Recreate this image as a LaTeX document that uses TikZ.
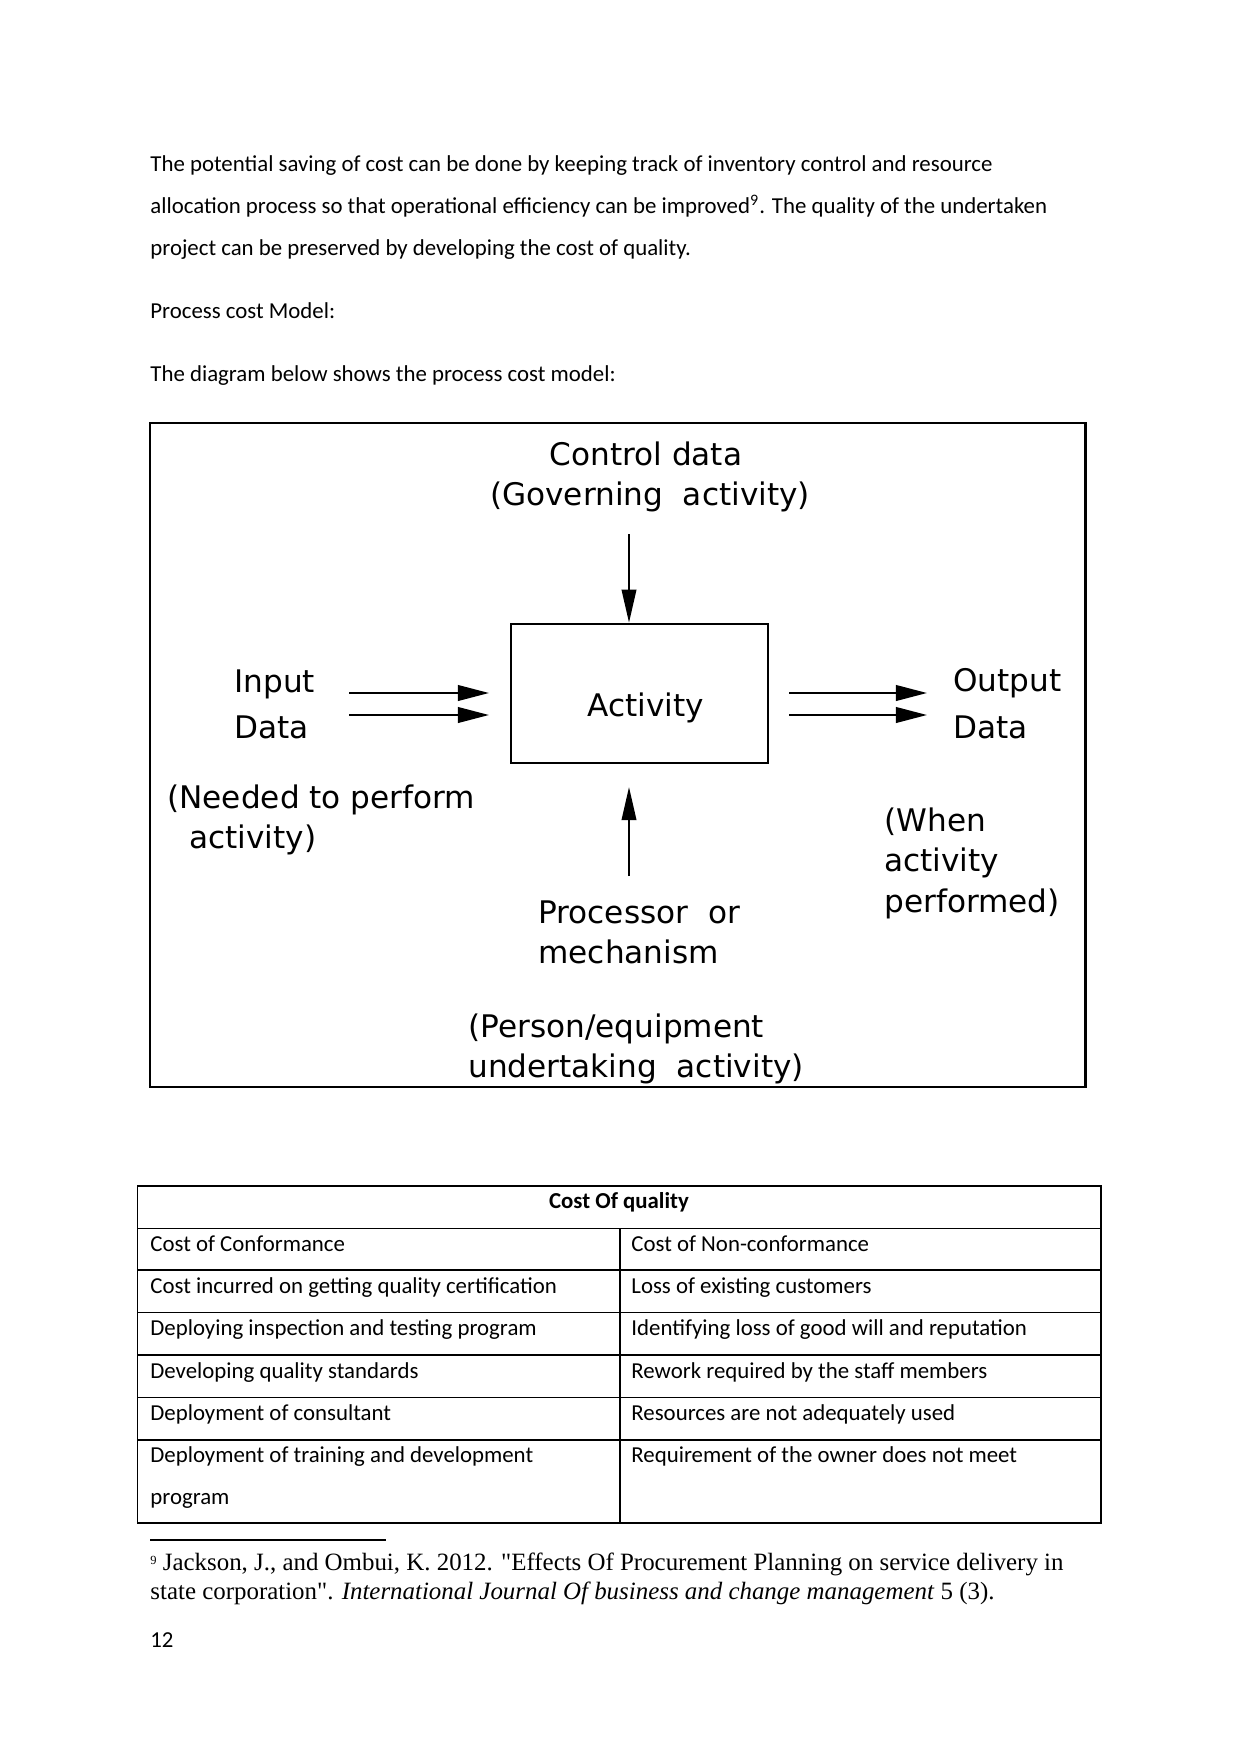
\documentclass[tikz,border=0pt]{standalone}
\usepackage{fontspec}
\setmainfont{Carlito}
\newfontfamily\diagfont{DejaVu Sans}
\newfontfamily\notefont{Liberation Serif}
\usetikzlibrary{arrows.meta}
\begin{document}
\begin{tikzpicture}[x=0.4818pt,y=-0.4818pt,
  body/.style={anchor=base west,inner sep=0pt,font=\fontsize{11}{13}\selectfont},
  cell/.style={anchor=base west,inner sep=0pt,font=\fontsize{11}{13}\selectfont},
  dtext/.style={anchor=base west,inner sep=0pt,font=\diagfont\fontsize{15}{18}\selectfont},
  note/.style={anchor=base west,inner sep=0pt,font=\notefont\fontsize{12}{14}\selectfont},
  arr/.style={line width=1.1pt,-{Triangle[length=16pt,width=7pt]}},
  harr/.style={line width=1.1pt,-{Triangle[length=15pt,width=7.5pt]}},
  frame/.style={draw,line width=1pt}]
\useasboundingbox[fill=white] (0,0) rectangle (1241,1754);
% body text
\node[body] (p1) at (150,172) {The potential saving of cost can be done by keeping track of inventory control and resource};
\node[body] (p2) at (150,214) {allocation process so that operational efficiency can be improved\textsuperscript{9}. The quality of the undertaken};
\node[body] (p3) at (150,256) {project can be preserved by developing the cost of quality.};
\node[body] (p4) at (150,319) {Process cost Model:};
\node[body] (p5) at (150,381) {The diagram below shows the process cost model:};
% diagram frame
\draw[frame] (150,423) rectangle (1085.5,1086.6);
\node[draw,line width=1.2pt,inner sep=0pt,minimum width=123.8pt,minimum height=67pt] (act) at (639.5,693.5) {};
\node[dtext,anchor=base] (actl) at (646,716) {Activity};
\node[dtext,anchor=base] (ctrl1) at (646,465) {Control data};
\node[dtext,anchor=base] (ctrl2) at (650,505) {(Governing\ \ activity)};
\coordinate (ctop) at (629,534);
\draw[arr] (ctop) -- (ctop |- act.north);
\node[dtext] (in1) at (234,692) {Input};
\node[dtext] (in2) at (234,738) {Data};
\coordinate (ia1) at (349,693);
\coordinate (ib1) at (489,693);
\coordinate (ia2) at (349,715);
\coordinate (ib2) at (489,715);
\draw[harr] (ia1) -- (ib1);
\draw[harr] (ia2) -- (ib2);
\coordinate (oa1) at (789,693);
\coordinate (ob1) at (927,693);
\coordinate (oa2) at (789,715);
\coordinate (ob2) at (927,715);
\draw[harr] (oa1) -- (ob1);
\draw[harr] (oa2) -- (ob2);
\node[dtext] (out1) at (953,691) {Output};
\node[dtext] (out2) at (953,738) {Data};
\node[dtext] (need1) at (167,808) {(Needed to perform};
\node[dtext] (need2) at (189,848) {activity)};
\coordinate (pbot) at (629,876);
\coordinate (ptip) at (629,787);
\draw[arr] (pbot) -- (ptip);
\node[dtext] (proc1) at (538,923) {Processor\ \ or};
\node[dtext] (proc2) at (538,963) {mechanism};
\node[dtext] (when1) at (884,831) {(When};
\node[dtext] (when2) at (884,871) {activity};
\node[dtext] (when3) at (884,912) {performed)};
\node[dtext] (pers1) at (468,1037) {(Person/equipment};
\node[dtext] (pers2) at (468,1077) {undertaking\ \ activity)};
% table
\draw[line width=0.6pt] (137.6,1186) rectangle (1101,1523);
\foreach \yy in {1228.7,1270,1312.6,1355,1397.6,1440} \draw[line width=0.6pt] (137.6,\yy) -- (1101,\yy);
\draw[line width=0.6pt] (620,1228.7) -- (620,1523);
\node[cell,anchor=base,font=\bfseries\fontsize{11}{13}\selectfont] (th) at (619,1208) {Cost Of quality};
\node[cell] (l1) at (150,1251) {Cost of Conformance};
\node[cell] (r1) at (631,1251) {Cost of Non-conformance};
\node[cell] (l2) at (150,1293) {Cost incurred on getting quality certification};
\node[cell] (r2) at (631,1293) {Loss of existing customers};
\node[cell] (l3) at (150,1335) {Deploying inspection and testing program};
\node[cell] (r3) at (631,1335) {Identifying loss of good will and reputation};
\node[cell] (l4) at (150,1378) {Developing quality standards};
\node[cell] (r4) at (631,1378) {Rework required by the staff members};
\node[cell] (l5) at (150,1420) {Deployment of consultant};
\node[cell] (r5) at (631,1420) {Resources are not adequately used};
\node[cell] (l6) at (150,1462) {Deployment of training and development};
\node[cell] (r6) at (631,1462) {Requirement of the owner does not meet};
\node[cell] (l7) at (150,1504) {program};
% footnote
\draw[line width=0.6pt] (150,1540) -- (386,1540);
\node[note] (fn1) at (150,1570) {\raisebox{0.5ex}{\fontsize{6}{7}\selectfont 9} Jackson, J., and Ombui, K. 2012. "Effects Of Procurement Planning on service delivery in};
\node[note] (fn2) at (150,1599) {state corporation". \textit{International Journal Of business and change management} 5 (3).};
\node[body] (pg) at (150,1647) {12};
\end{tikzpicture}
\end{document}
